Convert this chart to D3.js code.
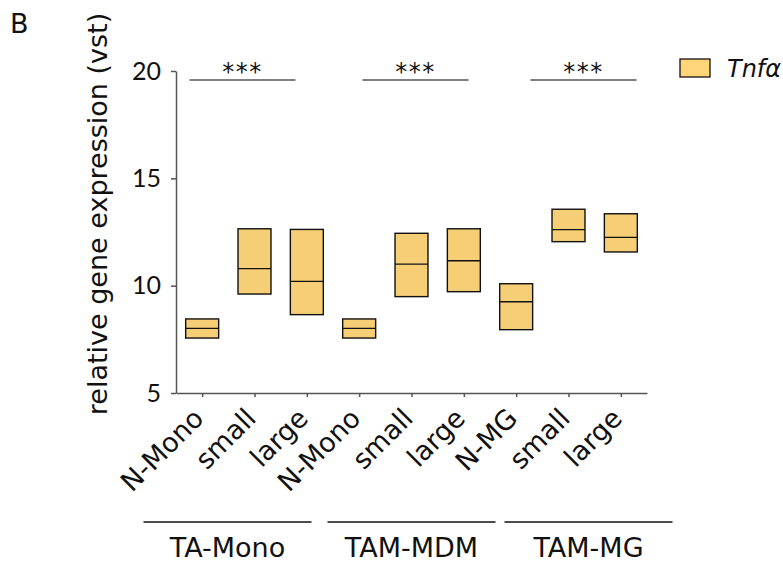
<!DOCTYPE html>
<html><head><meta charset="utf-8">
<script src="https://cdn.jsdelivr.net/npm/d3@7"></script>
<style>
body{margin:0;background:#fff;}
text{font-family:"DejaVu Sans",sans-serif;fill:#111;}
</style>
</head><body>
<svg id="chart" width="783" height="562"></svg>
<script>
// ---- data ----
const categories = ["TA-Mono|N-Mono","TA-Mono|small","TA-Mono|large",
                    "TAM-MDM|N-Mono","TAM-MDM|small","TAM-MDM|large",
                    "TAM-MG|N-MG","TAM-MG|small","TAM-MG|large"];
const tickLabels = ["N-Mono","small","large","N-Mono","small","large","N-MG","small","large"];
const groups = ["TA-Mono","TAM-MDM","TAM-MG"];
const lows    = [7.56, 9.61, 8.65, 7.56, 9.49, 9.72, 7.95, 12.05, 11.57];
const medians = [8.01, 10.79, 10.20, 8.01, 11.00, 11.16, 9.25, 12.61, 12.25];
const highs   = [8.45, 12.65, 12.62, 8.45, 12.44, 12.65, 10.09, 13.56, 13.35];
const yTicks = [5, 10, 15, 20];
const sigLabels = ["***","***","***"];
const legendLabel = "Tnfα";
const yTitle = "relative gene expression (vst)";
const panelLabel = "B";

// ---- layout ----
const svg = d3.select("#chart");
const axisColor = "#555";
const boxFill = "#F6CE76";
const y = d3.scaleLinear().domain([5, 20]).range([393, 71]);
const x = d3.scalePoint().domain(categories).range([176, 647]).padding(0.5);
const step = x.step();
const boxW = step * 0.63;

// y axis
const gy = svg.append("g").attr("transform", "translate(176,0)")
  .call(d3.axisLeft(y).tickValues(yTicks).tickSize(5).tickSizeOuter(0).tickPadding(10));
gy.select(".domain").attr("stroke", axisColor).attr("stroke-width", 1.5);
gy.selectAll(".tick line").attr("stroke", axisColor).attr("stroke-width", 1.5);
gy.selectAll(".tick text").style("font-size", "25px").style("font-family", "Lato,sans-serif").attr("fill", "#111");

// x axis
const gx = svg.append("g").attr("transform", "translate(0,393)")
  .call(d3.axisBottom(x).tickSize(4).tickSizeOuter(0).tickFormat(""));
gx.select(".domain").attr("stroke", axisColor).attr("stroke-width", 1.5);
gx.selectAll(".tick line").attr("stroke", axisColor).attr("stroke-width", 1.5);

// x tick labels
svg.append("g").selectAll("text").data(categories).join("text")
  .attr("transform", d => `translate(${x(d) + 3},${393 + 27}) rotate(-45)`)
  .attr("text-anchor", "end")
  .style("font-size", "27px")
  .text((d, i) => tickLabels[i]);

// boxes
const boxes = svg.append("g").selectAll("g").data(categories).join("g");
boxes.append("rect")
  .attr("x", d => x(d) - boxW / 2)
  .attr("width", boxW)
  .attr("y", (d, i) => y(highs[i]))
  .attr("height", (d, i) => y(lows[i]) - y(highs[i]))
  .attr("fill", boxFill).attr("stroke", "#111").attr("stroke-width", 1.4);
boxes.append("line")
  .attr("x1", d => x(d) - boxW / 2).attr("x2", d => x(d) + boxW / 2)
  .attr("y1", (d, i) => y(medians[i])).attr("y2", (d, i) => y(medians[i]))
  .attr("stroke", "#111").attr("stroke-width", 1.3);

// significance brackets
const sigShift = [-12, 4, 15];
const sigHalf = 53;
groups.forEach((g, gi) => {
  const cx = x(categories[gi * 3 + 1]) + sigShift[gi];
  const ly = y(20) + 9;
  svg.append("line").attr("x1", cx - sigHalf).attr("x2", cx + sigHalf)
    .attr("y1", ly).attr("y2", ly).attr("stroke", axisColor).attr("stroke-width", 1.5);
  svg.append("text").attr("x", cx).attr("y", ly + 0).attr("text-anchor", "middle")
    .style("font-size", "24px").style("letter-spacing", "1.5px").text(sigLabels[gi]);
});

// group lines and labels
const grpShift = [-27, 0, 20];
const grpHalf = 84;
groups.forEach((g, gi) => {
  const cx = x(categories[gi * 3 + 1]) + grpShift[gi];
  svg.append("line").attr("x1", cx - grpHalf).attr("x2", cx + grpHalf)
    .attr("y1", 522).attr("y2", 522).attr("stroke", "#111").attr("stroke-width", 1.3);
  svg.append("text").attr("x", cx).attr("y", 557).attr("text-anchor", "middle")
    .style("font-size", "27px").text(g);
});

// y title
svg.append("text").attr("transform", "translate(107,214) rotate(-90)")
  .attr("text-anchor", "middle").style("font-size", "27px").text(yTitle);

// panel label
svg.append("text").attr("x", 10).attr("y", 33).style("font-size", "27px").text(panelLabel);

// legend
svg.append("rect").attr("x", 680).attr("y", 59).attr("width", 30).attr("height", 18)
  .attr("fill", "#FFD57A").attr("stroke", "#111").attr("stroke-width", 1.3);
svg.append("text").attr("x", 727).attr("y", 77).style("font-size", "24px")
  .style("font-style", "italic").text(legendLabel);
</script>
</body></html>
